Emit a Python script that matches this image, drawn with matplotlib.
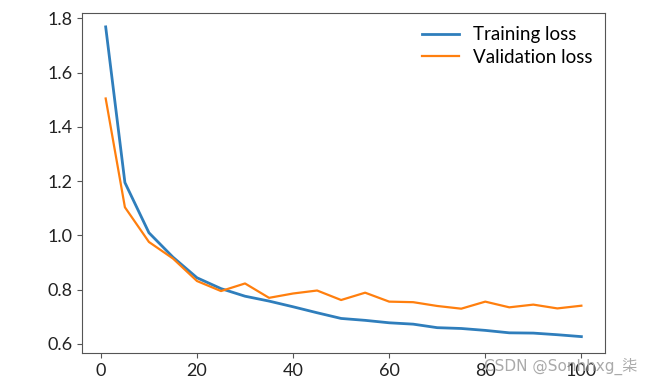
import matplotlib
matplotlib.use("Agg")
import matplotlib.pyplot as plt

epochs = [1, 5, 10, 15, 20, 25, 30, 35, 40, 45, 50, 55, 60, 65, 70, 75, 80, 85, 90, 95, 100]
train_loss = [1.769, 1.195, 1.01, 0.92, 0.844, 0.804, 0.776, 0.758, 0.737, 0.715, 0.694, 0.687,
              0.678, 0.673, 0.660, 0.657, 0.650, 0.641, 0.640, 0.634, 0.627]
val_loss = [1.505, 1.104, 0.976, 0.915, 0.832, 0.795, 0.823, 0.770, 0.786, 0.797, 0.762, 0.789,
            0.756, 0.754, 0.740, 0.730, 0.756, 0.735, 0.745, 0.731, 0.741]

plt.rcParams['font.family'] = ['Lato', 'DejaVu Sans']

fig = plt.figure(figsize=(6.5, 3.84), dpi=100)
ax = fig.add_axes([0.126, 0.081, 0.805, 0.885])
ax.plot(epochs, train_loss, color='#2f7ebc', lw=2.0, label='Training loss')
ax.plot(epochs, val_loss, color='#ff7f0e', lw=1.6, label='Validation loss')
ax.set_xticks([0, 20, 40, 60, 80, 100])
ax.set_yticks([0.6, 0.8, 1.0, 1.2, 1.4, 1.6, 1.8])
ax.set_yticklabels(['0.6', '0.8', '1.0', '1.2', '1.4', '1.6', '1.8'])
ax.set_ylim(0.567, 1.82)
ax.tick_params(labelsize=13, colors='#222222')
ax.tick_params(color='#555555')
for s in ax.spines.values():
    s.set_color('#555555')
ax.legend(loc='upper right', frameon=False, fontsize=13.5, handlelength=2.0,
          handletextpad=0.7, borderaxespad=0.3, labelspacing=0.3)

fig.text(0.745, 0.045, 'CSDN @Sonhhxg_柒', fontsize=11, color='#aaaaaa',
         family=['DejaVu Sans', 'Noto Sans CJK SC'], va='center')

fig.savefig('out.png', dpi=100)
